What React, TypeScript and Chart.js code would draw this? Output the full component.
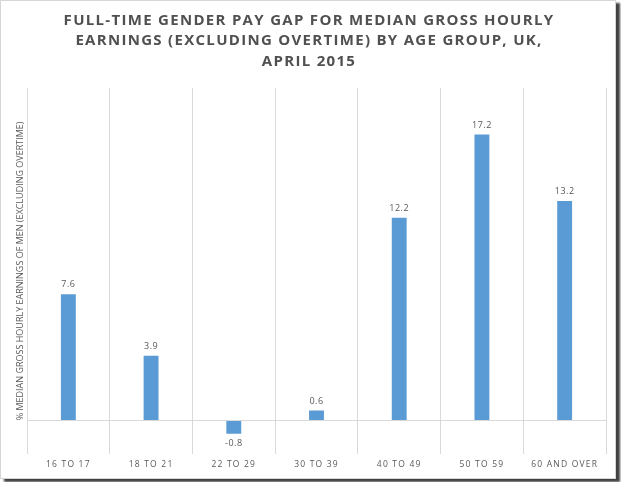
import React, { useEffect, useRef } from "react";
import { Chart, registerables } from "chart.js";

Chart.register(...registerables);

const categories = ["16 TO 17", "18 TO 21", "22 TO 29", "30 TO 39", "40 TO 49", "50 TO 59", "60 AND OVER"];
const payGap = [7.6, 3.9, -0.8, 0.6, 12.2, 17.2, 13.2];
const titleLines = [
  "FULL-TIME GENDER PAY GAP FOR MEDIAN GROSS HOURLY",
  "EARNINGS (EXCLUDING OVERTIME) BY AGE GROUP, UK,",
  "APRIL 2015",
];
const yAxisTitle = "% MEDIAN GROSS HOURLY EARNINGS OF MEN (EXCLUDING OVERTIME)";
const yMin = -2;
const yMax = 20;

const textColor = "#595959";

const textPlugin = {
  id: "customText",
  beforeDraw(chart: any) {
    chart.ctx.letterSpacing = "0px";
  },
  afterDatasetsDraw(chart: any) {
    const ctx = chart.ctx;
    const meta = chart.getDatasetMeta(0);
    ctx.save();
    ctx.letterSpacing = "0.5px";
    ctx.font = '9px "Open Sans"';
    ctx.fillStyle = textColor;
    ctx.textAlign = "center";
    ctx.textBaseline = "middle";
    meta.data.forEach((bar: any, i: number) => {
      const v = payGap[i];
      const { x, y } = bar.getProps(["x", "y"], true);
      const label = v.toFixed(1);
      if (v >= 0) ctx.fillText(label, x, y - 9.5);
      else ctx.fillText(label, x, y + 10);
    });
    ctx.restore();
    ctx.letterSpacing = "1.2px";
  },
  afterDraw(chart: any) {
    const ctx = chart.ctx;
    ctx.save();
    ctx.letterSpacing = "1.3px";
    ctx.font = 'bold 15px "Open Sans"';
    ctx.fillStyle = "#505050";
    ctx.textAlign = "center";
    ctx.textBaseline = "middle";
    titleLines.forEach((t, i) => ctx.fillText(t, 309, 20.5 + i * 20.5));
    ctx.restore();
    ctx.letterSpacing = "0px";
  },
};

export default function App() {
  const ref = useRef<HTMLCanvasElement | null>(null);

  useEffect(() => {
    if (!ref.current) return;
    const chart = new Chart(ref.current, {
      type: "bar",
      data: {
        labels: categories,
        datasets: [
          {
            data: payGap,
            backgroundColor: "#5B9BD5",
            borderWidth: 0,
            barPercentage: 0.18,
            categoryPercentage: 1,
          },
        ],
      },
      options: {
        animation: false,
        responsive: false,
        layout: { padding: { left: 10, top: 88, right: 15, bottom: 6 } },
        plugins: {
          legend: { display: false },
          title: { display: false },
          tooltip: { enabled: false },
        },
        scales: {
          x: {
            grid: { offset: true, color: "#d9d9d9", drawTicks: false, lineWidth: 1 },
            border: { display: false },
            ticks: {
              z: 1,
              color: textColor,
              font: { family: "Open Sans", size: 8.5 },
              padding: 6,
              maxRotation: 0,
              autoSkip: false,
            },
          },
          y: {
            min: yMin,
            max: yMax,
            ticks: { display: false, stepSize: 2 },
            grid: {
              drawTicks: false,
              color: (c: any) => (c.tick && c.tick.value === 0 ? "#d9d9d9" : "rgba(0,0,0,0)"),
            },
            border: { display: false },
            title: {
              display: true,
              text: yAxisTitle,
              color: textColor,
              font: { family: "Open Sans", size: 9 },
              padding: { top: 4.6, bottom: 1.6 },
            },
          },
        },
      },
      plugins: [textPlugin],
    });
    return () => chart.destroy();
  }, []);

  return (
    <div style={{ position: "absolute", left: 0, top: 0, width: 621, height: 482 }}>
      <div
        style={{
          position: "absolute",
          left: 0,
          top: 0,
          width: 614,
          height: 477,
          border: "1px solid #d6d6d6",
          background: "#ffffff",
          boxShadow: "4px 3px 2px rgba(0,0,0,0.75)",
        }}
      />
      <canvas
        ref={ref}
        width={621}
        height={482}
        style={{ position: "absolute", left: 0, top: 0, width: 621, height: 482 }}
      />
    </div>
  );
}
